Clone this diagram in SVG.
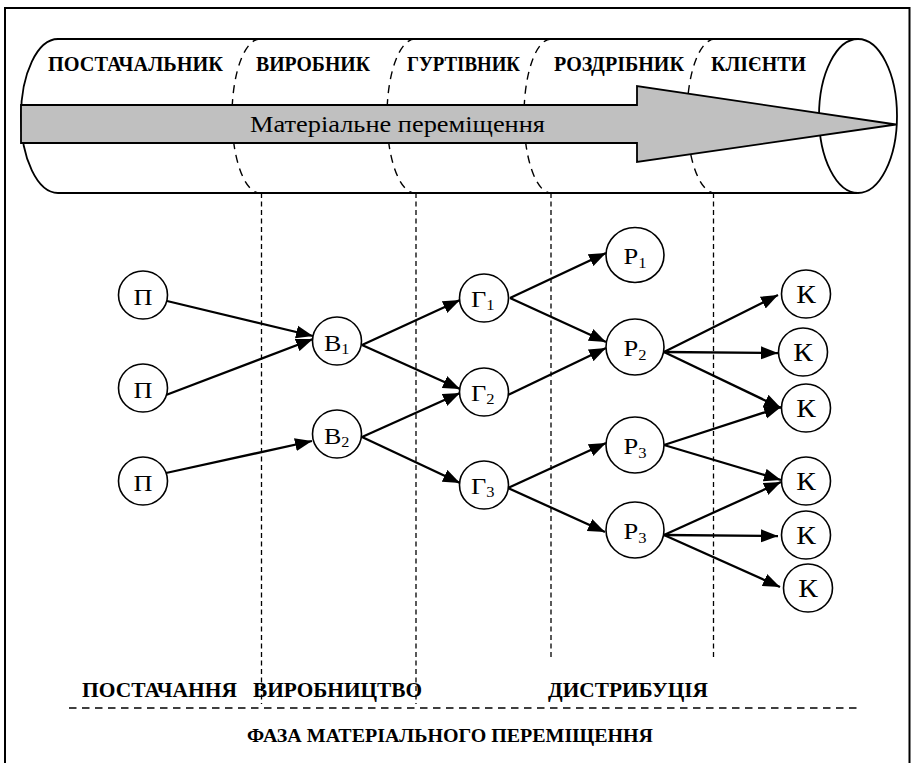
<svg xmlns="http://www.w3.org/2000/svg" width="914" height="763" viewBox="0 0 914 763">
  <style>
    .frame { fill: none; stroke: #000; stroke-width: 2; }
    .tube { fill: none; stroke: #000; stroke-width: 1.8; }
    .seam { fill: none; stroke: #000; stroke-width: 1.4; stroke-dasharray: 8 6; }
    .vline { fill: none; stroke: #000; stroke-width: 1.3; stroke-dasharray: 5 3.5; }
    .hline { fill: none; stroke: #000; stroke-width: 1.5; stroke-dasharray: 7.5 5.5; }
    .flow { fill: #c0c0c0; stroke: #000; stroke-width: 1.8; }
    .node { fill: #fff; stroke: #000; stroke-width: 1.6; }
    .edge { fill: none; stroke: #000; stroke-width: 2.3; marker-end: url(#arrow); }
    .lbl { font-family: "Liberation Serif", "Times New Roman", serif; fill: #000; }
    .head { font-size: 20px; font-weight: bold; }
    .nt { font-size: 24px; }
    .mid { text-anchor: middle; }
    .big { font-size: 25px; }
    .sub { font-size: 15px; }
  </style>
  <defs>
    <marker id="arrow" markerUnits="userSpaceOnUse" markerWidth="18" markerHeight="14" refX="17" refY="7" orient="auto">
      <path d="M0,0.5 L17,7 L0,13.5 z" fill="#000"/>
    </marker>
  </defs>

  <rect width="914" height="763" fill="#fff"/>
  <!-- outer frame (bottom edge runs off the sheet) -->
  <path class="frame" d="M5,764 V8 H909.5 V764"/>

  <!-- tube: dashed seams between participants -->
  <g id="seams">
    <path class="seam" d="M260,39 A28,77 0 0 0 260,193"/>
    <path class="seam" d="M415,39 A28,77 0 0 0 415,193"/>
    <path class="seam" d="M551,39 A27,77 0 0 0 551,193"/>
    <path class="seam" d="M715,39 A28,77 0 0 0 715,193"/>
  </g>

  <!-- tube body -->
  <g id="tube">
    <path class="tube" d="M857,39 L58,39 A37,77 0 0 0 58,193 L857,193"/>
    <ellipse class="tube" cx="858" cy="116" rx="39" ry="77"/>
  </g>

  <!-- material flow arrow -->
  <g id="flow">
    <path class="flow" d="M21,105 L637,105 L637,86 L896,124.5 L637,162 L637,143 L21,143 z"/>
    <text class="lbl" x="250" y="132" font-size="23" textLength="295" lengthAdjust="spacingAndGlyphs">Матеріальне переміщення</text>
  </g>

  <!-- participant headings -->
  <g id="headings" class="lbl head">
    <text x="48" y="71" textLength="175" lengthAdjust="spacingAndGlyphs">ПОСТАЧАЛЬНИК</text>
    <text x="256" y="71" textLength="114" lengthAdjust="spacingAndGlyphs">ВИРОБНИК</text>
    <text x="407" y="71" textLength="113" lengthAdjust="spacingAndGlyphs">ГУРТІВНИК</text>
    <text x="554" y="71" textLength="130" lengthAdjust="spacingAndGlyphs">РОЗДРІБНИК</text>
    <text x="711" y="71" textLength="95" lengthAdjust="spacingAndGlyphs">КЛІЄНТИ</text>
  </g>

  <!-- phase boundaries -->
  <g id="boundaries">
    <line class="vline" x1="261.5" y1="193" x2="261.5" y2="704"/>
    <line class="vline" x1="416" y1="193" x2="416" y2="704"/>
    <line class="vline" x1="551" y1="193" x2="551" y2="660"/>
    <line class="vline" x1="713.5" y1="193" x2="713.5" y2="660"/>
    <line class="hline" x1="69" y1="708" x2="862" y2="708"/>
  </g>

  <!-- connectors -->
  <g id="connectors">
    <line class="edge" x1="167" y1="301" x2="313" y2="336"/>
    <line class="edge" x1="166" y1="395" x2="313" y2="339"/>
    <line class="edge" x1="166" y1="473" x2="312" y2="441"/>
    <line class="edge" x1="362" y1="345" x2="460" y2="300"/>
    <line class="edge" x1="362" y1="345" x2="460" y2="389"/>
    <line class="edge" x1="362" y1="437" x2="460" y2="393"/>
    <line class="edge" x1="362" y1="437" x2="460" y2="483"/>
    <line class="edge" x1="510" y1="298" x2="606" y2="253"/>
    <line class="edge" x1="510" y1="298" x2="606" y2="342"/>
    <line class="edge" x1="508" y1="395" x2="606" y2="348"/>
    <line class="edge" x1="508" y1="488" x2="606" y2="443"/>
    <line class="edge" x1="508" y1="488" x2="605" y2="532"/>
    <line class="edge" x1="664" y1="352" x2="778" y2="295"/>
    <line class="edge" x1="664" y1="352" x2="778" y2="353"/>
    <line class="edge" x1="664" y1="352" x2="781" y2="408"/>
    <line class="edge" x1="664" y1="445" x2="781" y2="407"/>
    <line class="edge" x1="664" y1="445" x2="781" y2="480"/>
    <line class="edge" x1="664" y1="535" x2="781" y2="482"/>
    <line class="edge" x1="664" y1="535" x2="778" y2="536"/>
    <line class="edge" x1="664" y1="535" x2="780" y2="587"/>
  </g>

  <!-- suppliers -->
  <g id="p1"><ellipse class="node" cx="143" cy="295" rx="24.5" ry="24"/><text class="lbl nt mid" x="143" y="304.5" textLength="19" lengthAdjust="spacingAndGlyphs">П</text></g>
  <g id="p2"><ellipse class="node" cx="143" cy="388" rx="24.5" ry="24"/><text class="lbl nt mid" x="143" y="397.5" textLength="19" lengthAdjust="spacingAndGlyphs">П</text></g>
  <g id="p3"><ellipse class="node" cx="143" cy="481" rx="24.5" ry="24"/><text class="lbl nt mid" x="143" y="490.5" textLength="19" lengthAdjust="spacingAndGlyphs">П</text></g>

  <!-- producers -->
  <g id="b1"><ellipse class="node" cx="337" cy="341" rx="24.5" ry="24"/><text class="lbl nt" x="324" y="350.5" textLength="25.5" lengthAdjust="spacingAndGlyphs">В<tspan class="sub" dy="3">1</tspan></text></g>
  <g id="b2"><ellipse class="node" cx="337" cy="434" rx="24.5" ry="24"/><text class="lbl nt" x="324" y="443.5" textLength="25.5" lengthAdjust="spacingAndGlyphs">В<tspan class="sub" dy="3">2</tspan></text></g>

  <!-- wholesalers -->
  <g id="g1"><ellipse class="node" cx="484" cy="298" rx="24.5" ry="24"/><text class="lbl nt" x="471" y="307" textLength="23.5" lengthAdjust="spacingAndGlyphs">Г<tspan class="sub" dy="3">1</tspan></text></g>
  <g id="g2"><ellipse class="node" cx="484" cy="392" rx="24.5" ry="24"/><text class="lbl nt" x="471" y="401" textLength="23.5" lengthAdjust="spacingAndGlyphs">Г<tspan class="sub" dy="3">2</tspan></text></g>
  <g id="g3"><ellipse class="node" cx="484" cy="485" rx="24.5" ry="24"/><text class="lbl nt" x="471" y="494" textLength="23.5" lengthAdjust="spacingAndGlyphs">Г<tspan class="sub" dy="3">3</tspan></text></g>

  <!-- retailers -->
  <g id="r1"><ellipse class="node" cx="635" cy="255" rx="29" ry="27.5"/><text class="lbl nt" x="623.5" y="264" textLength="23" lengthAdjust="spacingAndGlyphs">Р<tspan class="sub" dy="4">1</tspan></text></g>
  <g id="r2"><ellipse class="node" cx="635" cy="347" rx="29" ry="28"/><text class="lbl nt" x="623.5" y="356" textLength="23" lengthAdjust="spacingAndGlyphs">Р<tspan class="sub" dy="4">2</tspan></text></g>
  <g id="r3a"><ellipse class="node" cx="635" cy="445" rx="29" ry="28"/><text class="lbl nt" x="623.5" y="454" textLength="23" lengthAdjust="spacingAndGlyphs">Р<tspan class="sub" dy="4">3</tspan></text></g>
  <g id="r3b"><ellipse class="node" cx="635" cy="530" rx="29" ry="28"/><text class="lbl nt" x="623.5" y="539" textLength="23" lengthAdjust="spacingAndGlyphs">Р<tspan class="sub" dy="4">3</tspan></text></g>

  <!-- customers -->
  <g id="k1"><ellipse class="node" cx="806" cy="294" rx="24.5" ry="24"/><text class="lbl big mid" x="806" y="303" textLength="19.5" lengthAdjust="spacingAndGlyphs">К</text></g>
  <g id="k2"><ellipse class="node" cx="803" cy="352" rx="24.5" ry="24"/><text class="lbl big mid" x="803" y="361" textLength="19.5" lengthAdjust="spacingAndGlyphs">К</text></g>
  <g id="k3"><ellipse class="node" cx="806" cy="408" rx="24.5" ry="24"/><text class="lbl big mid" x="806" y="417" textLength="19.5" lengthAdjust="spacingAndGlyphs">К</text></g>
  <g id="k4"><ellipse class="node" cx="806" cy="481" rx="24.5" ry="24"/><text class="lbl big mid" x="806" y="490" textLength="19.5" lengthAdjust="spacingAndGlyphs">К</text></g>
  <g id="k5"><ellipse class="node" cx="806" cy="535" rx="24.5" ry="24"/><text class="lbl big mid" x="806" y="544" textLength="19.5" lengthAdjust="spacingAndGlyphs">К</text></g>
  <g id="k6"><ellipse class="node" cx="808" cy="588" rx="24.5" ry="24"/><text class="lbl big mid" x="808" y="597" textLength="19.5" lengthAdjust="spacingAndGlyphs">К</text></g>

  <!-- phase captions -->
  <g id="phases" class="lbl head">
    <text x="82" y="697" textLength="155" lengthAdjust="spacingAndGlyphs">ПОСТАЧАННЯ</text>
    <text x="253" y="697" textLength="169" lengthAdjust="spacingAndGlyphs">ВИРОБНИЦТВО</text>
    <text x="548" y="697" textLength="160" lengthAdjust="spacingAndGlyphs">ДИСТРИБУЦІЯ</text>
    <text x="247" y="742" font-size="18" textLength="406" lengthAdjust="spacingAndGlyphs">ФАЗА МАТЕРІАЛЬНОГО ПЕРЕМІЩЕННЯ</text>
  </g>
</svg>
